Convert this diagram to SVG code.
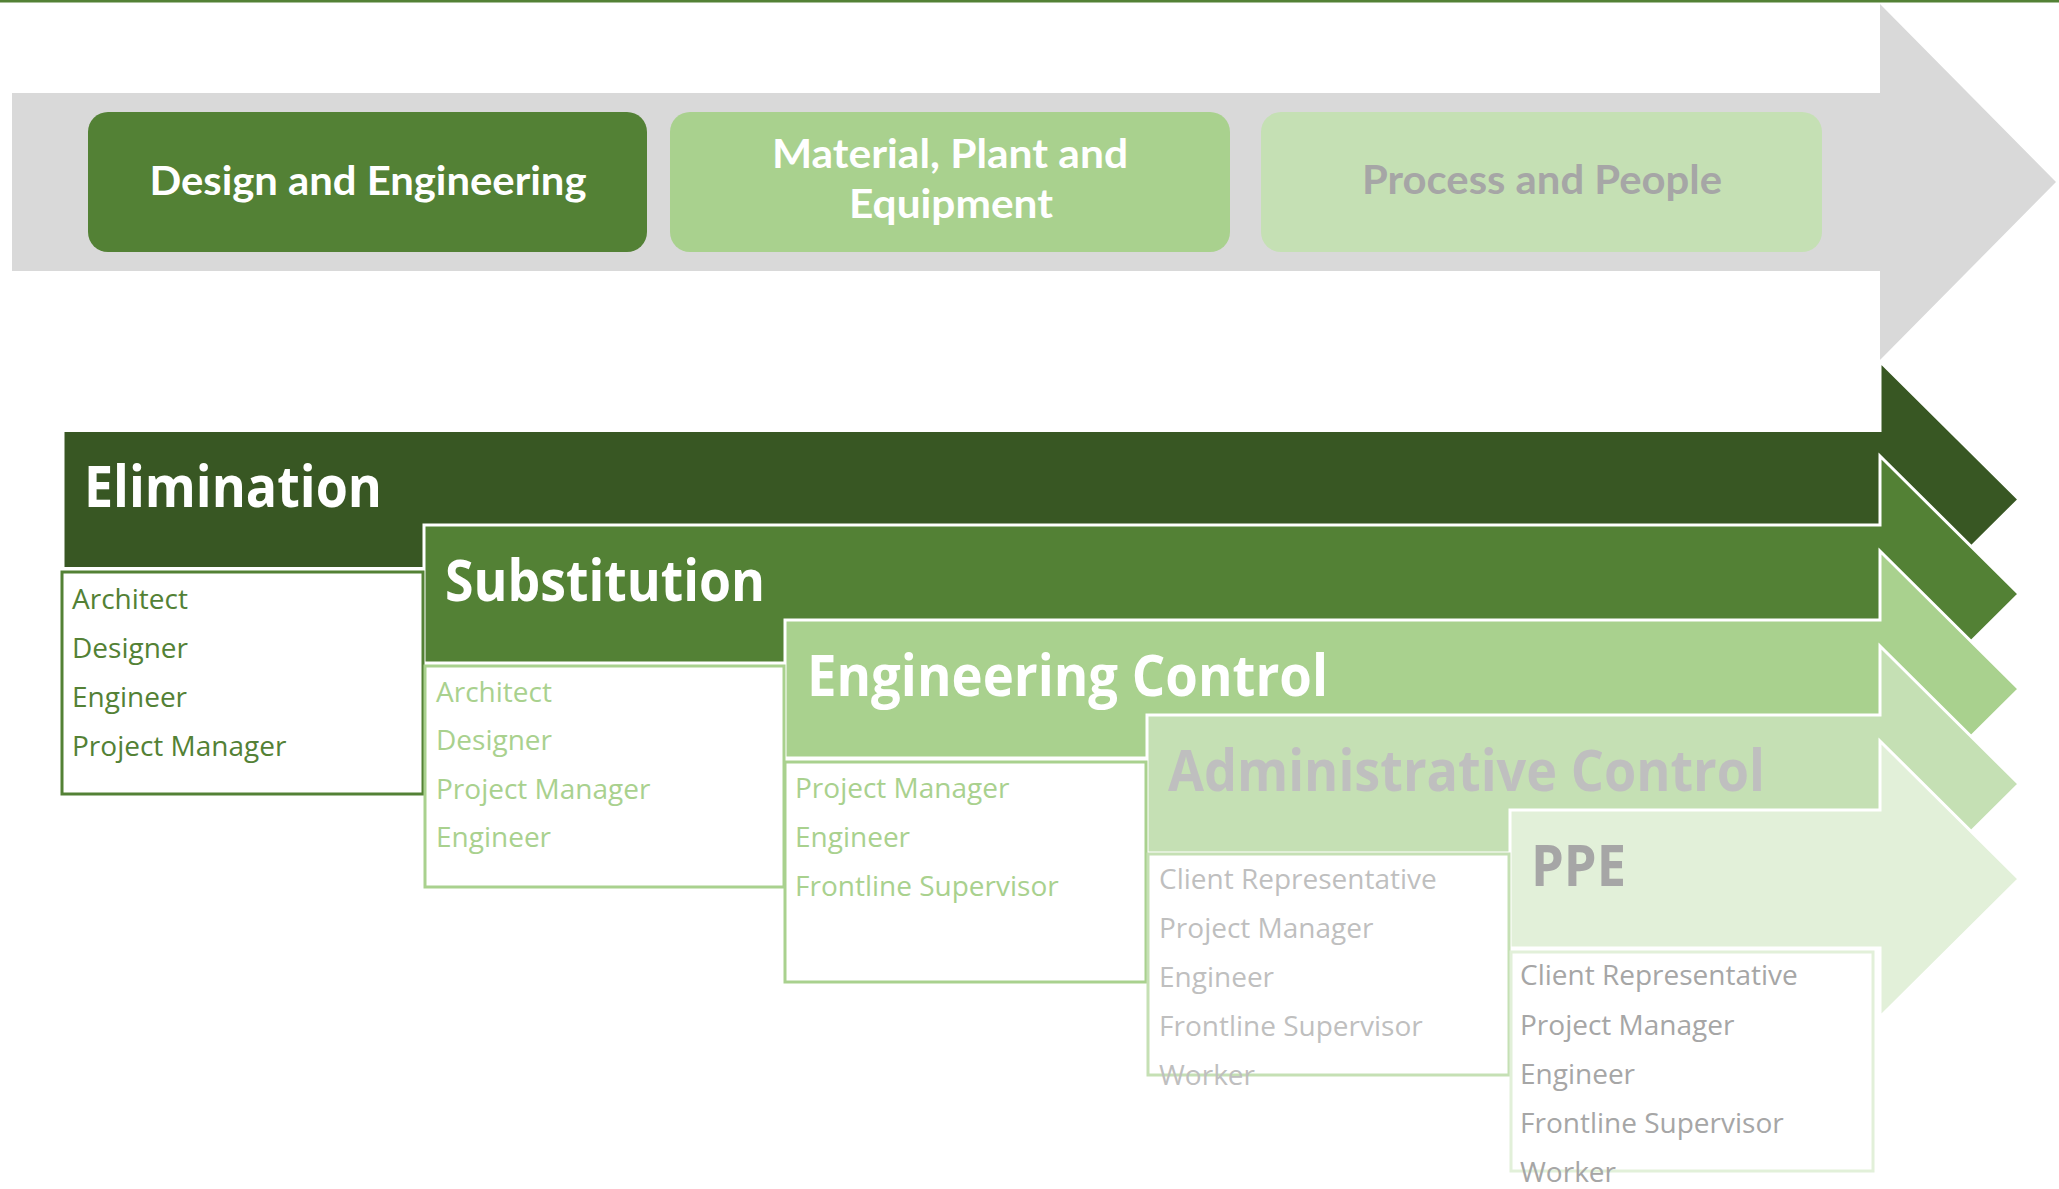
<svg xmlns="http://www.w3.org/2000/svg" width="2059" height="1189" viewBox="0 0 2059 1189">
<style>
.hd{font-family:"Open Sans","Liberation Sans",sans-serif;font-weight:700;font-size:57px}
.lb{font-family:Lato,"Open Sans","Liberation Sans",sans-serif;font-weight:700;font-size:40px;text-anchor:middle}
.li{font-family:"Open Sans","Liberation Sans",sans-serif;font-size:28px}
.ar{stroke:#FFFFFF;stroke-width:3;stroke-linejoin:miter}
.bx{fill:#FFFFFF;stroke-width:3}
.w{fill:#FFFFFF}
</style>
<rect width="2059" height="1189" fill="#FFFFFF"/>
<rect x="0" y="0" width="2059" height="2.5" fill="#538135"/>

<g id="phase-arrow">
<polygon points="12,93 1880,93 1880,4 2056,182 1880,360 1880,271 12,271" fill="#D9D9D9"/>
</g>

<g id="design-engineering">
<rect x="88" y="112" width="559" height="140" rx="20" fill="#538135"/>
<text class="lb w" x="368" y="195" textLength="437" lengthAdjust="spacingAndGlyphs">Design and Engineering</text>
</g>
<g id="material-plant-equipment">
<rect x="670" y="112" width="560" height="140" rx="20" fill="#A9D18E"/>
<text class="lb w" x="950" y="168" textLength="356" lengthAdjust="spacingAndGlyphs">Material, Plant and</text>
<text class="lb w" x="951" y="218" textLength="204" lengthAdjust="spacingAndGlyphs">Equipment</text>
</g>
<g id="process-people">
<rect x="1261" y="112" width="561" height="140" rx="20" fill="#C5E0B4"/>
<text class="lb" x="1542" y="194" fill="#A6A6A6" textLength="360" lengthAdjust="spacingAndGlyphs">Process and People</text>
</g>

<g id="elimination">
<polygon class="ar" points="63,430.5 1880,430.5 1880,361.5 2019,499.5 1880,637.5 1880,568.5 63,568.5" fill="#385723"/>
<text class="hd w" x="84" y="506.5" textLength="298" lengthAdjust="spacingAndGlyphs">Elimination</text>
</g>
<g id="substitution">
<polygon class="ar" points="424,525 1880,525 1880,456 2019,594 1880,732 1880,663 424,663" fill="#538135"/>
<text class="hd w" x="445" y="601" textLength="320" lengthAdjust="spacingAndGlyphs">Substitution</text>
</g>
<g id="engineering-control">
<polygon class="ar" points="785,620 1880,620 1880,551 2019,689 1880,827 1880,758 785,758" fill="#A9D18E"/>
<text class="hd w" x="807" y="696" textLength="521" lengthAdjust="spacingAndGlyphs">Engineering Control</text>
</g>
<g id="administrative-control">
<polygon class="ar" points="1147,715 1880,715 1880,646 2019,784 1880,922 1880,853 1147,853" fill="#C5E0B4"/>
<text class="hd" x="1168" y="791" fill="#BFBFBF" textLength="597" lengthAdjust="spacingAndGlyphs">Administrative Control</text>
</g>
<g id="ppe">
<polygon class="ar" points="1510,810 1880,810 1880,741 2019,879 1880,1017 1880,948 1510,948" fill="#E2F0D9"/>
<text class="hd" x="1531" y="886" fill="#A6A6A6" textLength="95" lengthAdjust="spacingAndGlyphs">PPE</text>
</g>

<g id="elimination-roles">
<rect class="bx" x="62" y="572" width="361" height="222" stroke="#538135"/>
<g class="li" fill="#538135">
<text x="72" y="609">Architect</text>
<text x="72" y="658">Designer</text>
<text x="72" y="707">Engineer</text>
<text x="72" y="756">Project Manager</text>
</g>
</g>
<g id="substitution-roles">
<rect class="bx" x="425" y="666" width="359" height="221" stroke="#A9D18E"/>
<g class="li" fill="#A9D18E">
<text x="436" y="702">Architect</text>
<text x="436" y="750">Designer</text>
<text x="436" y="799">Project Manager</text>
<text x="436" y="847">Engineer</text>
</g>
</g>
<g id="engineering-control-roles">
<rect class="bx" x="785" y="762" width="361" height="220" stroke="#A9D18E"/>
<g class="li" fill="#A9D18E">
<text x="795" y="798">Project Manager</text>
<text x="795" y="847">Engineer</text>
<text x="795" y="896">Frontline Supervisor</text>
</g>
</g>
<g id="administrative-control-roles">
<rect class="bx" x="1148" y="854" width="361" height="221" stroke="#C5E0B4"/>
<g class="li" fill="#BFBFBF">
<text x="1159" y="889">Client Representative</text>
<text x="1159" y="938">Project Manager</text>
<text x="1159" y="987">Engineer</text>
<text x="1159" y="1036">Frontline Supervisor</text>
<text x="1159" y="1085">Worker</text>
</g>
</g>
<g id="ppe-roles">
<rect class="bx" x="1511" y="952" width="362" height="219" stroke="#E2F0D9"/>
<g class="li" fill="#A6A6A6">
<text x="1520" y="985">Client Representative</text>
<text x="1520" y="1035">Project Manager</text>
<text x="1520" y="1084">Engineer</text>
<text x="1520" y="1133">Frontline Supervisor</text>
<text x="1520" y="1182">Worker</text>
</g>
</g>

<g id="connectors"/>
</svg>
